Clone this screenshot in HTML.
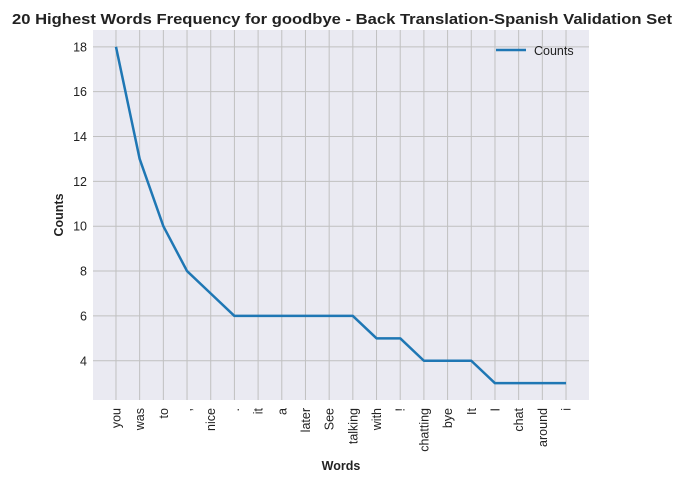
<!DOCTYPE html>
<html><head><meta charset="utf-8"><style>
body{margin:0;background:#fff;font-family:"Liberation Sans",Arial,sans-serif}
</style></head><body>
<svg width="682" height="483" xmlns="http://www.w3.org/2000/svg" font-family="Liberation Sans, Arial, sans-serif">
<text x="12" y="24" font-size="15" font-weight="bold" fill="#222" textLength="660" lengthAdjust="spacingAndGlyphs">20 Highest Words Frequency for goodbye - Back Translation-Spanish Validation Set</text>
<rect x="93" y="30" width="496" height="370" fill="#eaeaf2"/>
<g id="grid"></g><g id="xt"></g><g id="yt"></g>
<polyline id="line" fill="none" stroke="#1f77b4" stroke-width="2.5" stroke-linejoin="round"/>
<g>
<line x1="496" y1="50" x2="526" y2="50" stroke="#1f77b4" stroke-width="2.5"/>
<text x="534" y="55" font-size="12.5" fill="#222">Counts</text>
</g>
<text x="341" y="470" text-anchor="middle" font-size="12.5" font-weight="bold" fill="#222">Words</text>
<text transform="translate(63,215) rotate(-90)" text-anchor="middle" font-size="12.5" font-weight="bold" fill="#222">Counts</text>
</svg>
<script>
const words=["you","was","to",",","nice",".","it","a","later","See","talking","with","!","chatting","bye","It","I","chat","around","i"];
const counts=[18,13,10,8,7,6,6,6,6,6,6,5,5,4,4,4,3,3,3,3];
const yTicks=[4,6,8,10,12,14,16,18];
const NS="http://www.w3.org/2000/svg";
const L=93,R=589,T=30,B=400;
const n=words.length;
const xmin=-0.97,xmax=n-1+0.97;
const ymin=2.25,ymax=18.75;
const xs=i=>L+(i-xmin)/(xmax-xmin)*(R-L);
const ys=v=>B-(v-ymin)/(ymax-ymin)*(B-T);
const grid=document.getElementById('grid'),xt=document.getElementById('xt'),yt=document.getElementById('yt');
function mk(t,a){const e=document.createElementNS(NS,t);for(const k in a)e.setAttribute(k,a[k]);return e;}
words.forEach((w,i)=>{
 const x=xs(i);
 const g=mk('line',{x1:x,x2:x,y1:T,y2:B,stroke:'#c0c0c0','stroke-width':1});
 
 
 grid.appendChild(g);
 const t=mk('text',{transform:`translate(${x+4.5},${B+8}) rotate(-90)`,'text-anchor':'end','font-size':12.5,fill:'#222'});
 t.textContent=w;
 
 
 xt.appendChild(t);
});
yTicks.forEach(v=>{
 const y=ys(v);
 const g=mk('line',{x1:L,x2:R,y1:y,y2:y,stroke:'#c0c0c0','stroke-width':1});
 
 
 grid.appendChild(g);
 const t=mk('text',{x:L-6,y:y+4.5,'text-anchor':'end','font-size':12.5,fill:'#222'});
 t.textContent=v;
 
 
 yt.appendChild(t);
});
document.getElementById('line').setAttribute('points',counts.map((c,i)=>xs(i)+','+ys(c)).join(' '));
</script>
</body></html>
